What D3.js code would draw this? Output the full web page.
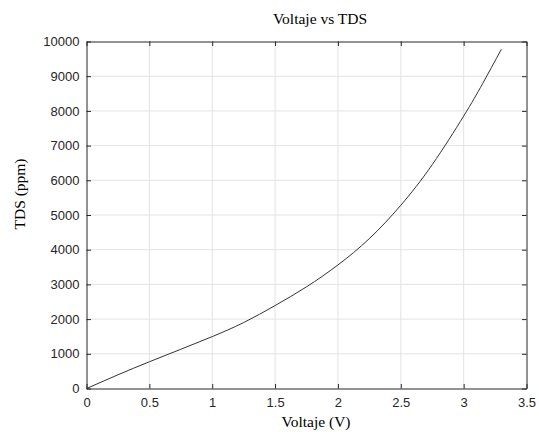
<!DOCTYPE html>
<html>
<head>
<meta charset="utf-8">
<script src="https://cdn.jsdelivr.net/npm/d3@7"></script>
<style>
  body { margin: 0; background: #fff; }
  svg { display: block; }
</style>
</head>
<body>
<div id="chart"></div>
<script>
(function(){

  // values
  var voltaje = [0, 0.25, 0.5, 0.75, 1, 1.25, 1.5, 1.75, 2, 2.25, 2.5, 2.75, 3, 3.15, 3.3];
  var tds = [0, 395, 770, 1130, 1495, 1900, 2390, 2930, 3560, 4320, 5280, 6450, 7850, 8780, 9775];
  var xTicks = [0, 0.5, 1, 1.5, 2, 2.5, 3, 3.5];
  var yTicks = [0, 1000, 2000, 3000, 4000, 5000, 6000, 7000, 8000, 9000, 10000];

  var width = 539;
  var height = 432;
  var margin = {top: 41.5, right: 12.5, bottom: 43.5, left: 86.5};
  var tickLen = 4.5;
  var axisColor = "#262626";

  var svg = d3.select("#chart")
    .append("svg")
    .attr("width", width)
    .attr("height", height);

  var x = d3.scaleLinear()
    .domain([0, 3.5])
    .range([margin.left, width - margin.right]);

  var y = d3.scaleLinear()
    .domain([0, 10000])
    .range([height - margin.bottom, margin.top]);

  // grid
  var grid = svg.append("g").attr("stroke", "#e3e3e3").attr("stroke-width", 1);
  grid.selectAll("line.gx")
    .data(xTicks.slice(1, -1))
    .enter().append("line")
    .attr("class", "gx")
    .attr("x1", function(d){ return x(d); })
    .attr("x2", function(d){ return x(d); })
    .attr("y1", y(0))
    .attr("y2", y(10000));
  grid.selectAll("line.gy")
    .data(yTicks.slice(1, -1))
    .enter().append("line")
    .attr("class", "gy")
    .attr("x1", x(0))
    .attr("x2", x(3.5))
    .attr("y1", function(d){ return y(d); })
    .attr("y2", function(d){ return y(d); });

  // curve
  var points = voltaje.map(function(v, i){ return [v, tds[i]]; });
  var line = d3.line()
    .x(function(d){ return x(d[0]); })
    .y(function(d){ return y(d[1]); })
    .curve(d3.curveNatural);

  svg.append("path")
    .datum(points)
    .attr("d", line)
    .attr("fill", "none")
    .attr("stroke", "#333")
    .attr("stroke-width", 1);

  // axes, ticks pointing inward on all four sides
  function styleAxis(g){
    g.select(".domain").attr("stroke", axisColor);
    g.selectAll(".tick line").attr("stroke", axisColor);
    g.selectAll(".tick text")
      .attr("fill", "#262626")
      .style("font-family", "'Liberation Sans', Arial, sans-serif")
      .style("font-size", "13px");
  }

  var fmt = function(d){ return String(d); };

  svg.append("g")
    .attr("transform", "translate(0," + y(0) + ")")
    .call(d3.axisBottom(x).tickValues(xTicks).tickFormat(fmt).tickSizeInner(-tickLen).tickSizeOuter(0).tickPadding(9))
    .call(styleAxis);

  svg.append("g")
    .attr("transform", "translate(0," + y(10000) + ")")
    .call(d3.axisTop(x).tickValues(xTicks).tickFormat("").tickSizeInner(-tickLen).tickSizeOuter(0))
    .call(styleAxis);

  svg.append("g")
    .attr("transform", "translate(" + x(0) + ",0)")
    .call(d3.axisLeft(y).tickValues(yTicks).tickFormat(fmt).tickSizeInner(-tickLen).tickSizeOuter(0).tickPadding(7))
    .call(styleAxis);

  svg.append("g")
    .attr("transform", "translate(" + x(3.5) + ",0)")
    .call(d3.axisRight(y).tickValues(yTicks).tickFormat("").tickSizeInner(-tickLen).tickSizeOuter(0))
    .call(styleAxis);

  // labels
  var serif = "'Liberation Serif', 'Times New Roman', serif";

  svg.append("text")
    .attr("x", 320)
    .attr("y", 24)
    .attr("text-anchor", "middle")
    .style("font-family", serif)
    .style("font-size", "15.5px")
    .attr("fill", "#000")
    .text("Voltaje vs TDS");

  svg.append("text")
    .attr("x", 316)
    .attr("y", 427)
    .attr("text-anchor", "middle")
    .style("font-family", serif)
    .style("font-size", "15.5px")
    .attr("fill", "#000")
    .text("Voltaje (V)");

  svg.append("text")
    .attr("transform", "translate(25,194) rotate(-90)")
    .attr("text-anchor", "middle")
    .style("font-family", serif)
    .style("font-size", "15.5px")
    .attr("fill", "#000")
    .text("TDS (ppm)");

})();
</script>
</body>
</html>
